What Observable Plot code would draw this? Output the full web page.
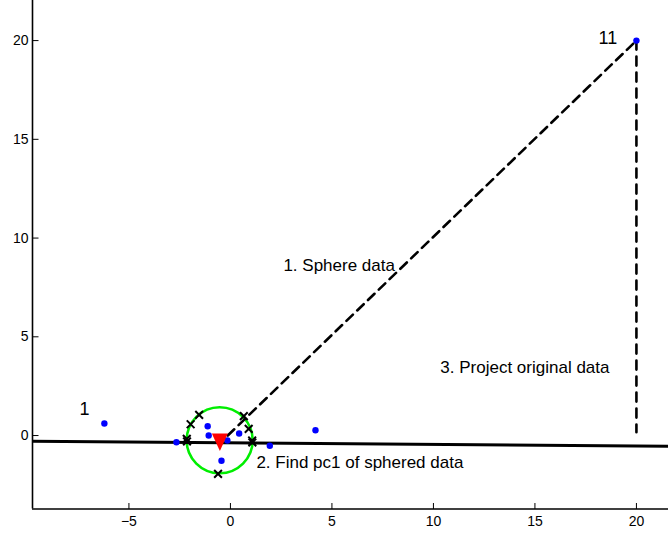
<!DOCTYPE html>
<html><head><meta charset="utf-8">
<script src="https://cdn.jsdelivr.net/npm/d3@7"></script>
<script src="https://cdn.jsdelivr.net/npm/@observablehq/plot@0.6"></script>
<style>html,body{margin:0;padding:0;background:#fff;} svg{display:block}</style>
</head><body><div id="chart"></div>
<script>
// ---- data ----
const xTicks = [-5, 0, 5, 10, 15, 20];
const yTicks = [0, 5, 10, 15, 20];
const xDomain = [-9.75, 21.58];
const yDomain = [-3.72, 22.03];

// original data points (blue)
const dataX = [-6.21, -2.66, -1.12, -1.07, -0.15, -0.44, 0.43, 1.94, 4.19, 20];
const dataY = [0.61, -0.34, 0.47, 0.0, -0.25, -1.28, 0.10, -0.52, 0.27, 20];

// sphered data (black x on unit circle)
const sphX = [-1.54, -1.96, -2.15, -2.14, 0.66, 0.90, 1.07, 1.08, -0.61];
const sphY = [1.05, 0.57, -0.17, -0.30, 0.98, 0.34, -0.25, -0.35, -1.94];

// circle centre (mean) and mean marker
const circleCenter = [-0.53, -0.24];
const meanPoint = [-0.52, -0.20];

// pc1 line endpoints
const pcX = [-10, 22];
const pcY = [-0.288, -0.543];

// dashed "sphere" line and "project" line
const sphereLineX = [-0.13, 20];
const sphereLineY = [0.0, 20];
const projLineX = [20, 20];
const projLineY = [20, 0.17];

// annotations
const noteText = ["1. Sphere data", "3. Project original data", "2. Find pc1 of sphered data"];
const noteX = [2.61, 10.34, 1.28];
const noteY = [8.61, 3.44, -1.38];
const idText = ["1", "11"];
const idX = [-7.19, 18.59];
const idY = [1.32, 20.14];

// ---- build ----
const pts = dataX.map((x, i) => ({x, y: dataY[i]}));
const sph = sphX.map((x, i) => ({x, y: sphY[i]}));
const pcLine = pcX.map((x, i) => ({x, y: pcY[i]}));
const sLine = sphereLineX.map((x, i) => ({x, y: sphereLineY[i]}));
const pLine = projLineX.map((x, i) => ({x, y: projLineY[i]}));
const notes = noteText.map((t, i) => ({t, x: noteX[i], y: noteY[i]}));
const ids = idText.map((t, i) => ({t, x: idX[i], y: idY[i]}));

const tickUp = {draw(ctx) { ctx.moveTo(0, 0); ctx.lineTo(0, -6); }};
const tickRight = {draw(ctx) { ctx.moveTo(0, 0); ctx.lineTo(6, 0); }};
const downTri = {draw(ctx) { ctx.moveTo(-8, -6); ctx.lineTo(8, -6); ctx.lineTo(0, 11.5); ctx.closePath(); }};

const chart = Plot.plot({
  width: 668,
  height: 536,
  marginLeft: 32,
  marginRight: 0,
  marginTop: 0,
  marginBottom: 27.5,
  style: {fontFamily: "'Liberation Sans', Arial, Helvetica, sans-serif", fontSize: "14px", background: "#fff", color: "#000", overflow: "visible"},
  x: {domain: xDomain, ticks: xTicks, tickSize: 0, tickPadding: 7, label: null},
  y: {domain: yDomain, ticks: yTicks, tickSize: 0, tickPadding: 4, label: null},
  marks: [
    // axis lines
    Plot.ruleX([xDomain[0]], {stroke: "#000", strokeWidth: 1.6}),
    Plot.ruleY([yDomain[0]], {stroke: "#000", strokeWidth: 1.6}),
    // inward ticks
    Plot.dot(xTicks, {x: d => d, frameAnchor: "bottom", symbol: tickUp, stroke: "#000", fill: "none", strokeWidth: 1}),
    Plot.dot(yTicks, {y: d => d, frameAnchor: "left", symbol: tickRight, stroke: "#000", fill: "none", strokeWidth: 1}),
    // green circle
    Plot.dot([circleCenter], {x: d => d[0], y: d => d[1], r: 33, stroke: "#00ee00", strokeWidth: 2.6, fill: "none"}),
    // pc1 line
    Plot.line(pcLine, {x: "x", y: "y", stroke: "#000", strokeWidth: 3, clip: true}),
    // dashed lines
    Plot.line(sLine, {x: "x", y: "y", stroke: "#000", strokeWidth: 2.6, strokeDasharray: "9,6"}),
    Plot.line(pLine, {x: "x", y: "y", stroke: "#000", strokeWidth: 2.6, strokeDasharray: "9,7"}),
    // sphered points
    Plot.dot(sph, {x: "x", y: "y", symbol: "times", r: 3.6, stroke: "#000", strokeWidth: 2}),
    // data points
    Plot.dot(pts, {x: "x", y: "y", r: 3.2, fill: "#0000ff", stroke: "none"}),
    // mean marker
    Plot.dot([meanPoint], {x: d => d[0], y: d => d[1], symbol: downTri, fill: "#ff0000", stroke: "none"}),
    // annotations
    Plot.text(notes, {x: "x", y: "y", text: "t", textAnchor: "start", fontSize: 17, fill: "#000"}),
    Plot.text(ids, {x: "x", y: "y", text: "t", textAnchor: "middle", fontSize: 18, fill: "#000"})
  ]
});
document.getElementById("chart").appendChild(chart);
</script></body></html>
